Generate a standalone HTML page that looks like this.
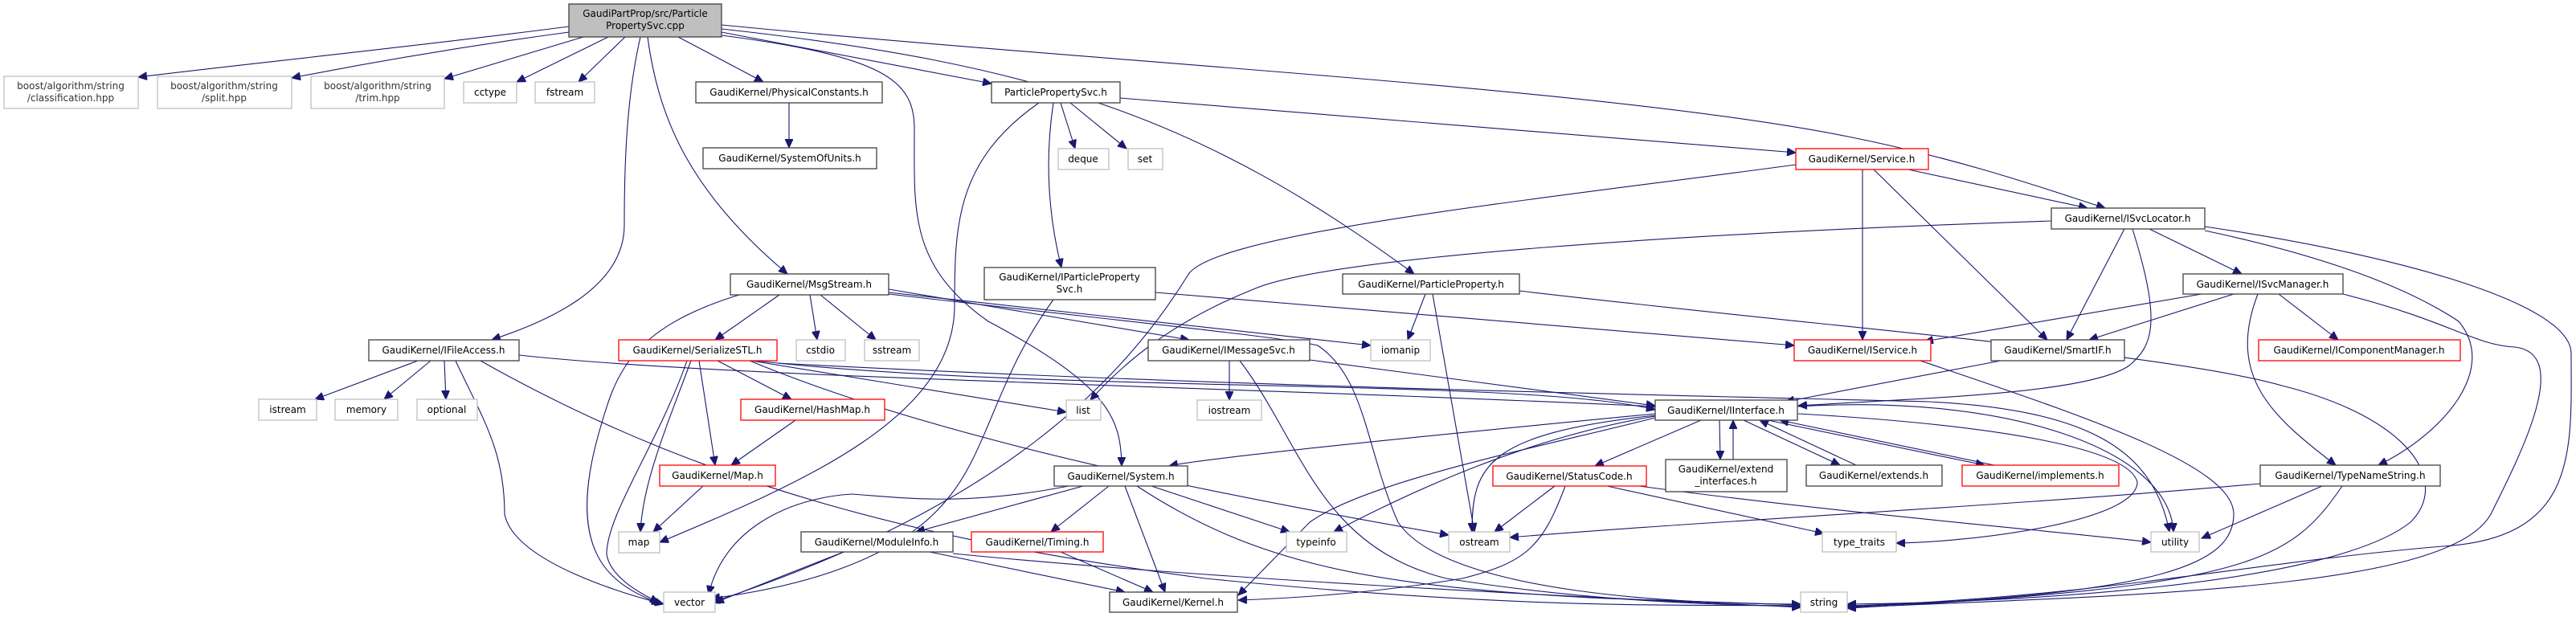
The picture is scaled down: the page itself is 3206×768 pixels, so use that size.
<!DOCTYPE html>
<html><head><meta charset="utf-8"><style>
html,body{margin:0;padding:0;background:#fff;}
svg{display:block}
text{font-family:"DejaVu Sans","Liberation Sans",sans-serif;font-size:12px;fill:#000;text-anchor:middle}
.n rect{fill:#fff;stroke:#404040;stroke-width:1.3}
.g rect{fill:#fff;stroke:#bfbfbf;stroke-width:1.3}
.r rect{fill:#fff;stroke:#ff0000;stroke-width:1.3}
.e path{fill:none;stroke:#191970;stroke-width:1.1}
</style></head><body>
<svg width="3206" height="768" viewBox="0 0 3206 768" xmlns="http://www.w3.org/2000/svg">
<defs><marker id="a" markerUnits="userSpaceOnUse" markerWidth="12" markerHeight="10" refX="11" refY="5" orient="auto"><path d="M0,0 L11,5 L0,10 z" fill="#191970" stroke="#191970"/></marker></defs>
<g class="e">
<path d="M708,33 C500,60 300,80 172,96" marker-end="url(#a)"/>
<path d="M708,40 C560,60 450,80 363,97" marker-end="url(#a)"/>
<path d="M726,46 L553,98" marker-end="url(#a)"/>
<path d="M757,46 L643,102" marker-end="url(#a)"/>
<path d="M778,46 L720,102" marker-end="url(#a)"/>
<path d="M844,46 L950,102" marker-end="url(#a)"/>
<path d="M806,46 C820,150 860,240 980,341" marker-end="url(#a)"/>
<path d="M797,46 C780,120 777,200 777,280 C777,360 680,400 612,423" marker-end="url(#a)"/>
<path d="M898,40 L1234,104" marker-end="url(#a)"/>
<path d="M898,36 C1300,80 1500,150 1760,341" marker-end="url(#a)"/>
<path d="M898,31 C1400,80 2000,110 2300,170 C2450,200 2560,240 2620,259" marker-end="url(#a)"/>
<path d="M898,44 C1100,70 1138,100 1138,160 C1138,260 1130,330 1230,400 C1380,480 1395,520 1396,580" marker-end="url(#a)"/>
<path d="M982,128 L982,184" marker-end="url(#a)"/>
<path d="M1320,128 L1338,185" marker-end="url(#a)"/>
<path d="M1332,128 L1402,185" marker-end="url(#a)"/>
<path d="M1311,128 C1300,200 1305,270 1321,333" marker-end="url(#a)"/>
<path d="M1293,128 C1190,200 1188,280 1188,380 C1188,520 1000,600 821,675" marker-end="url(#a)"/>
<path d="M1394,122 L2235,190" marker-end="url(#a)"/>
<path d="M970,367 L890,423" marker-end="url(#a)"/>
<path d="M1008,367 L1017,423" marker-end="url(#a)"/>
<path d="M1021,367 L1090,423" marker-end="url(#a)"/>
<path d="M920,367 C780,410 765,470 745,540 C700,700 770,730 822,752" marker-end="url(#a)"/>
<path d="M1106,360 L1480,423" marker-end="url(#a)"/>
<path d="M1106,364 L1706,430" marker-end="url(#a)"/>
<path d="M1106,366 C1400,400 1600,420 1640,430 C1700,470 1700,560 1740,650 C1800,740 2100,752 2241,752" marker-end="url(#a)"/>
<path d="M520,449 L392,497" marker-end="url(#a)"/>
<path d="M536,449 L478,497" marker-end="url(#a)"/>
<path d="M553,449 L555,497" marker-end="url(#a)"/>
<path d="M567,449 C600,520 628,560 628,640 C640,700 780,740 826,752" marker-end="url(#a)"/>
<path d="M598,449 C900,620 1200,680 1500,720 C1900,760 2100,752 2241,754" marker-end="url(#a)"/>
<path d="M646,442 C900,470 1500,480 2060,506" marker-end="url(#a)"/>
<path d="M893,449 L985,497" marker-end="url(#a)"/>
<path d="M870,449 L890,579" marker-end="url(#a)"/>
<path d="M860,449 C830,530 800,600 797,662" marker-end="url(#a)"/>
<path d="M855,449 C820,550 755,640 755,690 C760,720 800,740 820,750" marker-end="url(#a)"/>
<path d="M935,449 L1327,513" marker-end="url(#a)"/>
<path d="M933,449 C1200,560 1600,630 1803,666" marker-end="url(#a)"/>
<path d="M967,452 C1500,480 2000,490 2400,500 C2600,510 2680,560 2700,662" marker-end="url(#a)"/>
<path d="M940,449 C1300,490 1900,470 2060,510" marker-end="url(#a)"/>
<path d="M990,523 L910,579" marker-end="url(#a)"/>
<path d="M875,605 L813,662" marker-end="url(#a)"/>
<path d="M1311,373 C1240,470 1230,560 1180,620 C1100,720 920,740 885,745" marker-end="url(#a)"/>
<path d="M1438,364 L2233,430" marker-end="url(#a)"/>
<path d="M1774,366 L1752,423" marker-end="url(#a)"/>
<path d="M1783,366 L1835,662" marker-end="url(#a)"/>
<path d="M1891,362 C2300,410 2700,440 2840,480 C3000,520 3050,600 3000,650 C2900,730 2500,750 2299,752" marker-end="url(#a)"/>
<path d="M1530,449 L1530,498" marker-end="url(#a)"/>
<path d="M1543,449 C1620,550 1640,680 1800,720 C2000,752 2150,752 2241,755" marker-end="url(#a)"/>
<path d="M1630,448 L2060,505" marker-end="url(#a)"/>
<path d="M2375,211 L2598,259" marker-end="url(#a)"/>
<path d="M2318,211 L2318,423" marker-end="url(#a)"/>
<path d="M2332,211 L2548,423" marker-end="url(#a)"/>
<path d="M2235,205 C1900,250 1520,290 1480,340 C1400,470 1250,630 885,750" marker-end="url(#a)"/>
<path d="M2553,275 C2100,290 1650,320 1560,360 C1460,400 1400,450 1357,498" marker-end="url(#a)"/>
<path d="M2644,285 L2572,423" marker-end="url(#a)"/>
<path d="M2654,285 C2690,400 2680,430 2650,455 C2600,490 2400,495 2238,505" marker-end="url(#a)"/>
<path d="M2675,285 L2790,341" marker-end="url(#a)"/>
<path d="M2744,287 C2900,320 3000,360 3060,400 C3110,460 3040,540 2960,579" marker-end="url(#a)"/>
<path d="M2744,282 C3000,320 3200,380 3200,440 C3200,560 3210,670 3040,680 C2800,700 2600,745 2299,754" marker-end="url(#a)"/>
<path d="M2740,366 L2395,425" marker-end="url(#a)"/>
<path d="M2780,366 L2600,423" marker-end="url(#a)"/>
<path d="M2836,366 L2910,423" marker-end="url(#a)"/>
<path d="M2810,366 C2770,470 2830,520 2907,579" marker-end="url(#a)"/>
<path d="M2916,366 C3050,400 3080,430 3130,432 C3200,440 3140,560 3100,640 C3050,730 2700,740 2299,756" marker-end="url(#a)"/>
<path d="M2390,449 C2600,520 2780,580 2780,640 C2780,700 2700,740 2299,755" marker-end="url(#a)"/>
<path d="M2490,449 L2222,500" marker-end="url(#a)"/>
<path d="M2060,515 C1800,540 1500,570 1455,580" marker-end="url(#a)"/>
<path d="M2117,523 L1985,580" marker-end="url(#a)"/>
<path d="M2140,523 L2141,572" marker-end="url(#a)"/>
<path d="M2157,572 L2157,523" marker-end="url(#a)"/>
<path d="M2170,523 L2290,579" marker-end="url(#a)"/>
<path d="M2310,579 L2190,523" marker-end="url(#a)"/>
<path d="M2200,523 L2470,579" marker-end="url(#a)"/>
<path d="M2482,579 L2215,523" marker-end="url(#a)"/>
<path d="M2060,520 C1900,560 1700,600 1630,650 L1541,741" marker-end="url(#a)"/>
<path d="M2060,518 C1900,545 1760,610 1660,662" marker-end="url(#a)"/>
<path d="M2060,517 C1850,540 1832,580 1832,662" marker-end="url(#a)"/>
<path d="M2238,515 C2500,530 2650,560 2660,600 C2660,650 2450,675 2360,676" marker-end="url(#a)"/>
<path d="M2238,506 C2500,490 2700,560 2705,662" marker-end="url(#a)"/>
<path d="M1348,605 L1140,662" marker-end="url(#a)"/>
<path d="M1380,605 L1308,662" marker-end="url(#a)"/>
<path d="M1400,605 L1450,737" marker-end="url(#a)"/>
<path d="M1433,605 L1605,662" marker-end="url(#a)"/>
<path d="M1415,605 C1560,700 1700,730 2000,745 L2241,753" marker-end="url(#a)"/>
<path d="M1330,605 C1200,630 1130,620 1060,615 C980,620 900,660 882,740" marker-end="url(#a)"/>
<path d="M1935,605 L1860,662" marker-end="url(#a)"/>
<path d="M1948,605 C1920,680 1900,700 1820,720 C1700,740 1600,745 1541,747" marker-end="url(#a)"/>
<path d="M2000,605 L2270,664" marker-end="url(#a)"/>
<path d="M2040,605 C2300,640 2600,665 2677,675" marker-end="url(#a)"/>
<path d="M1050,687 L890,750" marker-end="url(#a)"/>
<path d="M1157,687 L1400,737" marker-end="url(#a)"/>
<path d="M1186,689 C1500,720 1900,740 2241,756" marker-end="url(#a)"/>
<path d="M1320,687 L1435,737" marker-end="url(#a)"/>
<path d="M2813,602 C2500,630 2100,650 1879,669" marker-end="url(#a)"/>
<path d="M2890,605 L2740,670" marker-end="url(#a)"/>
<path d="M2915,605 C2850,700 2800,730 2299,757" marker-end="url(#a)"/>
</g>
<g class="n"><rect x="708" y="5" width="190" height="41" style="fill:#bfbfbf"/><text x="803" y="21">GaudiPartProp/src/Particle</text><text x="803" y="36">PropertySvc.cpp</text></g>
<g class="g"><rect x="5" y="95" width="167" height="40"/><text x="88" y="111" style="fill:#333">boost/algorithm/string</text><text x="88" y="126" style="fill:#333">/classification.hpp</text></g>
<g class="g"><rect x="196" y="95" width="167" height="40"/><text x="279" y="111" style="fill:#333">boost/algorithm/string</text><text x="279" y="126" style="fill:#333">/split.hpp</text></g>
<g class="g"><rect x="387" y="95" width="166" height="40"/><text x="470" y="111" style="fill:#333">boost/algorithm/string</text><text x="470" y="126" style="fill:#333">/trim.hpp</text></g>
<g class="g"><rect x="577" y="102" width="66" height="26"/><text x="610" y="119">cctype</text></g>
<g class="g"><rect x="666" y="102" width="74" height="26"/><text x="703" y="119">fstream</text></g>
<g class="n"><rect x="866" y="102" width="232" height="26"/><text x="982" y="119">GaudiKernel/PhysicalConstants.h</text></g>
<g class="n"><rect x="875" y="184" width="216" height="26"/><text x="983" y="201">GaudiKernel/SystemOfUnits.h</text></g>
<g class="n"><rect x="1234" y="102" width="160" height="26"/><text x="1314" y="119">ParticlePropertySvc.h</text></g>
<g class="g"><rect x="1317" y="185" width="63" height="26"/><text x="1348" y="202">deque</text></g>
<g class="g"><rect x="1404" y="185" width="43" height="26"/><text x="1425" y="202">set</text></g>
<g class="r"><rect x="2235" y="185" width="165" height="26"/><text x="2317" y="202">GaudiKernel/Service.h</text></g>
<g class="n"><rect x="2553" y="259" width="191" height="26"/><text x="2648" y="276">GaudiKernel/ISvcLocator.h</text></g>
<g class="n"><rect x="909" y="341" width="197" height="26"/><text x="1007" y="358">GaudiKernel/MsgStream.h</text></g>
<g class="n"><rect x="1225" y="333" width="213" height="40"/><text x="1331" y="349">GaudiKernel/IParticleProperty</text><text x="1331" y="364">Svc.h</text></g>
<g class="n"><rect x="1671" y="341" width="220" height="25"/><text x="1781" y="358">GaudiKernel/ParticleProperty.h</text></g>
<g class="n"><rect x="2717" y="341" width="199" height="25"/><text x="2816" y="358">GaudiKernel/ISvcManager.h</text></g>
<g class="n"><rect x="459" y="423" width="187" height="26"/><text x="552" y="440">GaudiKernel/IFileAccess.h</text></g>
<g class="r"><rect x="770" y="423" width="197" height="26"/><text x="868" y="440">GaudiKernel/SerializeSTL.h</text></g>
<g class="g"><rect x="991" y="423" width="61" height="26"/><text x="1021" y="440">cstdio</text></g>
<g class="g"><rect x="1076" y="423" width="68" height="26"/><text x="1110" y="440">sstream</text></g>
<g class="n"><rect x="1429" y="423" width="201" height="26"/><text x="1529" y="440">GaudiKernel/IMessageSvc.h</text></g>
<g class="g"><rect x="1706" y="423" width="74" height="26"/><text x="1743" y="440">iomanip</text></g>
<g class="r"><rect x="2233" y="423" width="170" height="26"/><text x="2318" y="440">GaudiKernel/IService.h</text></g>
<g class="n"><rect x="2478" y="423" width="166" height="26"/><text x="2561" y="440">GaudiKernel/SmartIF.h</text></g>
<g class="r"><rect x="2811" y="423" width="251" height="26"/><text x="2936" y="440">GaudiKernel/IComponentManager.h</text></g>
<g class="g"><rect x="322" y="497" width="72" height="26"/><text x="358" y="514">istream</text></g>
<g class="g"><rect x="417" y="497" width="78" height="26"/><text x="456" y="514">memory</text></g>
<g class="g"><rect x="519" y="497" width="75" height="26"/><text x="556" y="514">optional</text></g>
<g class="r"><rect x="922" y="497" width="179" height="26"/><text x="1011" y="514">GaudiKernel/HashMap.h</text></g>
<g class="g"><rect x="1327" y="498" width="43" height="25"/><text x="1348" y="515">list</text></g>
<g class="g"><rect x="1490" y="498" width="80" height="25"/><text x="1530" y="515">iostream</text></g>
<g class="n"><rect x="2060" y="498" width="177" height="25"/><text x="2148" y="515">GaudiKernel/IInterface.h</text></g>
<g class="r"><rect x="821" y="579" width="144" height="26"/><text x="893" y="596">GaudiKernel/Map.h</text></g>
<g class="n"><rect x="1312" y="580" width="166" height="25"/><text x="1395" y="597">GaudiKernel/System.h</text></g>
<g class="r"><rect x="1858" y="580" width="191" height="25"/><text x="1953" y="597">GaudiKernel/StatusCode.h</text></g>
<g class="n"><rect x="2073" y="572" width="151" height="40"/><text x="2148" y="588">GaudiKernel/extend</text><text x="2148" y="603">_interfaces.h</text></g>
<g class="n"><rect x="2248" y="579" width="169" height="26"/><text x="2332" y="596">GaudiKernel/extends.h</text></g>
<g class="r"><rect x="2442" y="579" width="195" height="26"/><text x="2539" y="596">GaudiKernel/implements.h</text></g>
<g class="n"><rect x="2813" y="579" width="224" height="26"/><text x="2925" y="596">GaudiKernel/TypeNameString.h</text></g>
<g class="g"><rect x="770" y="662" width="51" height="26"/><text x="795" y="679">map</text></g>
<g class="n"><rect x="997" y="662" width="189" height="25"/><text x="1091" y="679">GaudiKernel/ModuleInfo.h</text></g>
<g class="r"><rect x="1209" y="662" width="164" height="25"/><text x="1291" y="679">GaudiKernel/Timing.h</text></g>
<g class="g"><rect x="1601" y="662" width="75" height="25"/><text x="1638" y="679">typeinfo</text></g>
<g class="g"><rect x="1803" y="662" width="76" height="25"/><text x="1841" y="679">ostream</text></g>
<g class="g"><rect x="2268" y="662" width="92" height="25"/><text x="2314" y="679">type_traits</text></g>
<g class="g"><rect x="2677" y="662" width="60" height="25"/><text x="2707" y="679">utility</text></g>
<g class="g"><rect x="826" y="737" width="64" height="25"/><text x="858" y="754">vector</text></g>
<g class="n"><rect x="1381" y="737" width="159" height="25"/><text x="1460" y="754">GaudiKernel/Kernel.h</text></g>
<g class="g"><rect x="2241" y="737" width="58" height="25"/><text x="2270" y="754">string</text></g>
</svg>
</body></html>
